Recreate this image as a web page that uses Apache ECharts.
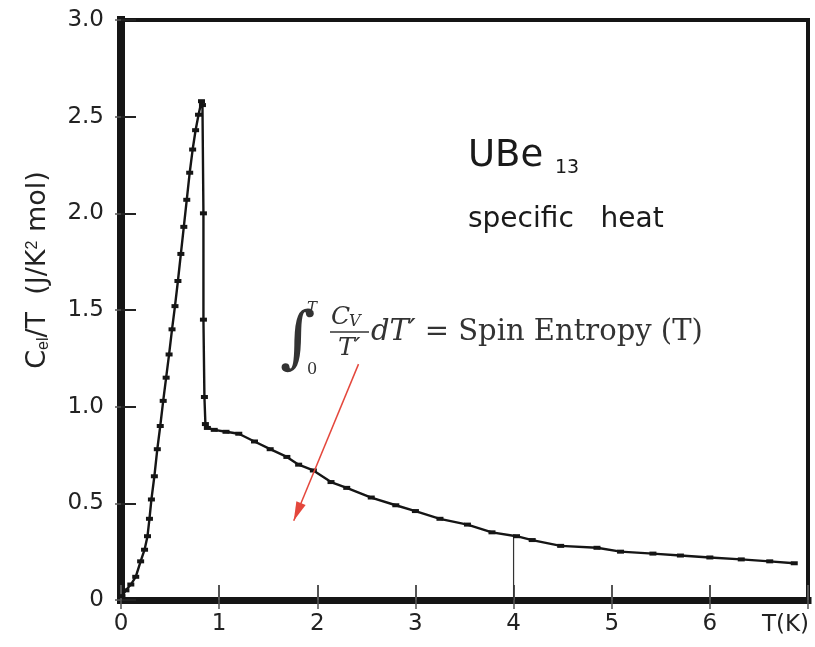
<!DOCTYPE html>
<html><head><meta charset="utf-8">
<script src="https://cdn.jsdelivr.net/npm/echarts/dist/echarts.min.js"></script>
<style>html,body{margin:0;padding:0;background:#fff}#c{width:815px;height:647px}</style>
</head><body><div id="c"></div>
<script>
// ---- data ----
const riseT = [0.01,0.05,0.10,0.15,0.20,0.24,0.27,0.29,0.31,0.34,0.37,0.40,0.43,0.46,0.49,0.52,0.55,0.58,0.61,0.64,0.67,0.70,0.73,0.76,0.79,0.82];
const riseC = [0.02,0.05,0.08,0.12,0.20,0.26,0.33,0.42,0.52,0.64,0.78,0.90,1.03,1.15,1.27,1.40,1.52,1.65,1.79,1.93,2.07,2.21,2.33,2.43,2.51,2.58];
const dropT = [0.83,0.84,0.84,0.85,0.86];
const dropC = [2.56,2.00,1.45,1.05,0.91];
const decayT = [0.88,0.95,1.07,1.20,1.36,1.52,1.69,1.81,1.96,2.14,2.30,2.55,2.80,3.00,3.25,3.53,3.78,4.03,4.19,4.48,4.85,5.09,5.42,5.70,6.00,6.32,6.61,6.86];
const decayC = [0.89,0.88,0.87,0.86,0.82,0.78,0.74,0.70,0.67,0.61,0.58,0.53,0.49,0.46,0.42,0.39,0.35,0.33,0.31,0.28,0.27,0.25,0.24,0.23,0.22,0.21,0.20,0.19];
const refLineT = [4, 4];
const refLineC = [0, 0.33];
const arrowFrom = [2.42, 1.22];
const arrowTo = [1.76, 0.41];
const xTickLabels = ['0','1','2','3','4','5','6'];
const yTickLabels = ['0','0.5','1.0','1.5','2.0','2.5','3.0'];
const xUnitLabel = 'T(K)';
const yTitle = 'C{s|el}/T  (J/K{p|2} mol)';

// ---- build ----
const allT = riseT.concat(dropT, decayT);
const allC = riseC.concat(dropC, decayC);
const curve = allT.map((t, i) => [t, allC[i]]);
const refLine = refLineT.map((t, i) => [t, refLineC[i]]);

const chart = echarts.init(document.getElementById('c'), null, {renderer: 'canvas'});
const ink = '#151515';
const red = '#e4473c';
const labelFont = {fontFamily: 'DejaVu Sans', fontSize: 23, color: '#222'};
const fy = 332; // formula text centre line
chart.setOption({
  animation: false,
  backgroundColor: '#fff',
  grid: {left: 121, right: 7, top: 20, bottom: 47, show: true, borderColor: ink, borderWidth: 4, backgroundColor: 'transparent'},
  xAxis: [{
    type: 'value', min: 0, max: 7, interval: 1, position: 'bottom',
    axisLine: {lineStyle: {color: ink, width: 7, cap: 'square'}},
    axisTick: {inside: true, length: 15, lineStyle: {color: '#555', width: 2}},
    axisLabel: Object.assign({margin: 13, formatter: v => (v < xTickLabels.length ? xTickLabels[v] : '')}, labelFont),
    splitLine: {show: false}
  }, {
    type: 'value', min: 0, max: 7, interval: 1, position: 'top',
    axisLine: {show: false},
    axisTick: {inside: true, length: 9, lineStyle: {color: '#555', width: 1.5}},
    axisLabel: {show: false}, splitLine: {show: false}
  }],
  yAxis: [{
    type: 'value', min: 0, max: 3, interval: 0.5, position: 'left',
    axisLine: {lineStyle: {color: ink, width: 8, cap: 'square'}},
    axisTick: {inside: true, length: 15, lineStyle: {color: '#222', width: 2}},
    axisLabel: Object.assign({margin: 17, formatter: v => yTickLabels[Math.round(v / 0.5)]}, labelFont),
    splitLine: {show: false}
  }, {
    type: 'value', min: 0, max: 3, interval: 0.5, position: 'right',
    axisLine: {show: false},
    axisTick: {inside: true, length: 6, lineStyle: {color: '#555', width: 1.5}},
    axisLabel: {show: false}, splitLine: {show: false}
  }],
  series: [{
    type: 'line', data: curve, xAxisIndex: 0, yAxisIndex: 0,
    lineStyle: {color: ink, width: 2.4},
    itemStyle: {color: ink},
    symbol: 'rect', symbolSize: [7, 4], showSymbol: true,
    markLine: {
      silent: true, symbol: ['none', 'none'],
      label: {show: false},
      lineStyle: {color: red, width: 1.5, type: 'solid'},
      data: [[{coord: arrowFrom}, {coord: arrowTo}]]
    }
  }, {
    type: 'line', data: refLine, xAxisIndex: 0, yAxisIndex: 0,
    lineStyle: {color: '#333', width: 1.2}, symbol: 'none'
  }],
  graphic: [
    {type: 'text', x: 38, y: 270, rotation: Math.PI / 2, style: {
      text: yTitle, fontFamily: 'DejaVu Sans', fontSize: 27, fill: '#222', align: 'center', verticalAlign: 'middle',
      rich: {s: {fontSize: 16, verticalAlign: 'bottom', fill: '#222'}, p: {fontSize: 16, verticalAlign: 'top', fill: '#222'}}
    }},
    {type: 'text', x: 809, y: 625, style: {text: xUnitLabel, fontFamily: 'DejaVu Sans', fontSize: 23, fill: '#222', align: 'right', verticalAlign: 'middle'}},
    {type: 'text', x: 468, y: 156, style: {text: 'UBe', fontFamily: 'DejaVu Sans', fontSize: 37, fill: '#1a1a1a', verticalAlign: 'middle'}},
    {type: 'text', x: 555, y: 168, style: {text: '13', fontFamily: 'DejaVu Sans', fontSize: 19, fill: '#1a1a1a', verticalAlign: 'middle'}},
    {type: 'text', x: 468, y: 220, style: {text: 'specific   heat', fontFamily: 'DejaVu Sans', fontSize: 28, fill: '#1a1a1a', verticalAlign: 'middle'}},
    {type: 'text', x: 280, y: fy + 10, style: {text: '∫', fontFamily: 'DejaVu Serif', fontSize: 68, fill: '#333', verticalAlign: 'middle'}},
    {type: 'text', x: 307, y: fy - 24, style: {text: 'T', fontFamily: 'DejaVu Serif', fontStyle: 'italic', fontSize: 15, fill: '#333', verticalAlign: 'middle'}},
    {type: 'text', x: 307, y: fy + 38, style: {text: '0', fontFamily: 'DejaVu Serif', fontSize: 16, fill: '#333', verticalAlign: 'middle'}},
    {type: 'text', x: 331, y: fy - 15, style: {text: 'C', fontFamily: 'DejaVu Serif', fontStyle: 'italic', fontSize: 25, fill: '#333', verticalAlign: 'middle'}},
    {type: 'text', x: 349, y: fy - 10, style: {text: 'V', fontFamily: 'DejaVu Serif', fontStyle: 'italic', fontSize: 16, fill: '#333', verticalAlign: 'middle'}},
    {type: 'line', shape: {x1: 330, y1: fy, x2: 369, y2: fy}, style: {stroke: '#333', lineWidth: 1.3}},
    {type: 'text', x: 338, y: fy + 16, style: {text: 'T′', fontFamily: 'DejaVu Serif', fontStyle: 'italic', fontSize: 25, fill: '#333', verticalAlign: 'middle'}},
    {type: 'text', x: 371, y: fy, style: {
      text: '{i|dT′} = Spin Entropy (T)', fontFamily: 'DejaVu Serif', fontSize: 29, fill: '#333', verticalAlign: 'middle',
      rich: {i: {fontFamily: 'DejaVu Serif', fontStyle: 'italic', fontSize: 29, fill: '#333'}}
    }}
  ]
});

// arrow head placed at the pixel position of the arrow's data end point
const p1 = chart.convertToPixel({gridIndex: 0}, arrowFrom);
const p2 = chart.convertToPixel({gridIndex: 0}, arrowTo);
const dx = p2[0] - p1[0], dy = p2[1] - p1[1];
const L = Math.hypot(dx, dy), ux = dx / L, uy = dy / L;
const headLen = 19, headW = 5;
const bx = p2[0] - ux * headLen, by = p2[1] - uy * headLen;
chart.setOption({graphic: [{type: 'polygon', id: 'arrowHead', shape: {points: [
  [p2[0], p2[1]], [bx - uy * headW, by + ux * headW], [bx + uy * headW, by - ux * headW]
]}, style: {fill: red}}]});
</script>
</body></html>
